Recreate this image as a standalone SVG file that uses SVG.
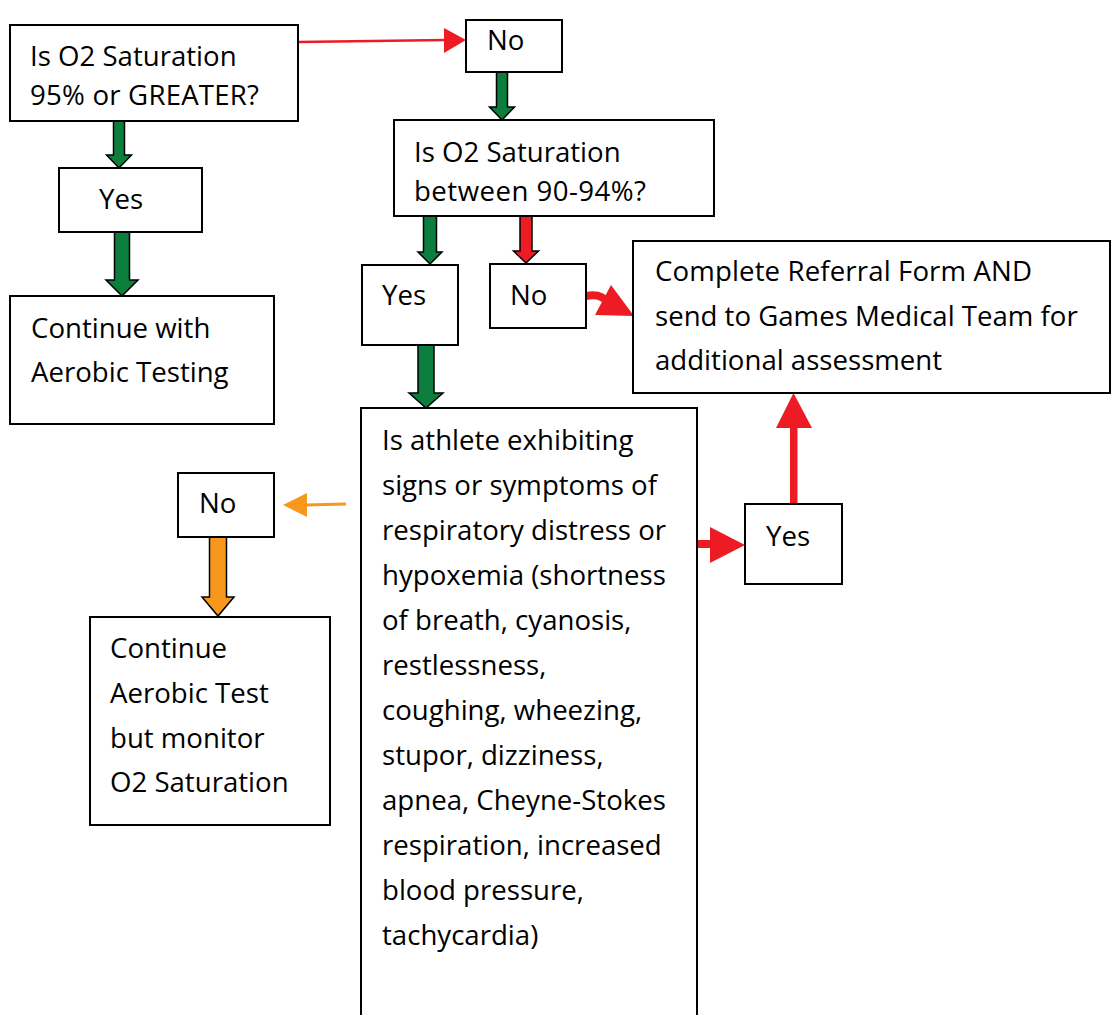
<svg xmlns="http://www.w3.org/2000/svg" width="1111" height="1015" viewBox="0 0 1111 1015">
<style>
.box{fill:#fff;stroke:#000;stroke-width:2}
.t{font-family:"Open Sans","Noto Sans",sans-serif;font-size:27.6px;fill:#000}
.g{fill:#0b7d3d;stroke:#000;stroke-width:1.5;stroke-linejoin:miter}
.rb{fill:#ed1c24;stroke:#000;stroke-width:1.5}
.o{fill:#f7981d;stroke:#000;stroke-width:1.5}
.r{fill:#ed1c24}
</style>
<rect width="1111" height="1015" fill="#fff"/>
<g id="connectors">
  <line x1="298" y1="42" x2="446" y2="40" stroke="#ed1c24" stroke-width="2.5"/>
  <polygon class="r" points="444,28 466,40 444,53"/>
  <polygon class="g" points="113.5,121 124.5,121 124.5,155 131.5,155 119,168 106.5,155 113.5,155"/>
  <polygon class="g" points="114.5,232 129.5,232 129.5,280 138,280 122,296 106,280 114.5,280"/>
  <polygon class="g" points="496.5,72 507.5,72 507.5,107 514.5,107 502,120 489.5,107 496.5,107"/>
  <polygon class="g" points="423.5,216 436.5,216 436.5,252 442,252 430,264 418,252 423.5,252"/>
  <polygon class="rb" points="520,216 532,216 532,251 538.5,251 526,263 513.5,251 520,251"/>
  <polygon class="g" points="418,345 434,345 434,393 443,393 426,408 409,393 418,393"/>
  <polygon class="o" points="209.5,537 226.5,537 226.5,597 234,597 218,616 202,597 209.5,597"/>
  <path d="M586,296 Q601,293 607,302" fill="none" stroke="#ed1c24" stroke-width="8"/>
  <polygon class="r" points="611,285 595,315 634,316"/>
  <rect class="r" x="697" y="540" width="15" height="8"/>
  <polygon class="r" points="710,527 745,545 710,563"/>
  <rect class="r" x="790" y="426" width="7.5" height="78"/>
  <polygon class="r" points="776,428 793.5,393 812,428"/>
  <line x1="305" y1="505" x2="346" y2="504" stroke="#f7981d" stroke-width="3"/>
  <polygon fill="#f7981d" points="307,493 283,505 307,517"/>
</g>
<g id="n1">
  <rect class="box" x="10" y="25" width="288" height="96"/>
  <text class="t" x="30" y="66">Is O2 Saturation</text>
  <text class="t" x="30" y="105" textLength="229">95% or GREATER?</text>
</g>
<g id="n2">
  <rect class="box" x="466" y="20" width="96" height="52"/>
  <text class="t" x="487" y="50">No</text>
</g>
<g id="n3">
  <rect class="box" x="394" y="120" width="320" height="96"/>
  <text class="t" x="414" y="162">Is O2 Saturation</text>
  <text class="t" x="414" y="201" textLength="232">between 90-94%?</text>
</g>
<g id="n4">
  <rect class="box" x="59" y="168" width="143" height="64"/>
  <text class="t" x="99" y="209">Yes</text>
</g>
<g id="n5">
  <rect class="box" x="10" y="296" width="264" height="128"/>
  <text class="t" x="31" y="338">Continue with</text>
  <text class="t" x="31" y="382">Aerobic Testing</text>
</g>
<g id="n6">
  <rect class="box" x="362" y="265" width="96" height="80"/>
  <text class="t" x="382" y="305">Yes</text>
</g>
<g id="n7">
  <rect class="box" x="490" y="264" width="96" height="64"/>
  <text class="t" x="510" y="305">No</text>
</g>
<g id="n8">
  <rect class="box" x="633" y="241" width="477" height="152"/>
  <text class="t" x="655" y="281" textLength="377">Complete Referral Form AND</text>
  <text class="t" x="655" y="326">send to Games Medical Team for</text>
  <text class="t" x="655" y="370">additional assessment</text>
</g>
<g id="n9">
  <rect class="box" x="361" y="408" width="336" height="620"/>
  <text class="t" x="382" y="450">Is athlete exhibiting</text>
  <text class="t" x="382" y="495">signs or symptoms of</text>
  <text class="t" x="382" y="540">respiratory distress or</text>
  <text class="t" x="382" y="585">hypoxemia (shortness</text>
  <text class="t" x="382" y="630">of breath, cyanosis,</text>
  <text class="t" x="382" y="675">restlessness,</text>
  <text class="t" x="382" y="720">coughing, wheezing,</text>
  <text class="t" x="382" y="765">stupor, dizziness,</text>
  <text class="t" x="382" y="810">apnea, Cheyne-Stokes</text>
  <text class="t" x="382" y="855">respiration, increased</text>
  <text class="t" x="382" y="900">blood pressure,</text>
  <text class="t" x="382" y="945">tachycardia)</text>
</g>
<g id="n10">
  <rect class="box" x="178" y="473" width="96" height="64"/>
  <text class="t" x="199" y="513">No</text>
</g>
<g id="n11">
  <rect class="box" x="90" y="617" width="240" height="208"/>
  <text class="t" x="110" y="658">Continue</text>
  <text class="t" x="110" y="703">Aerobic Test</text>
  <text class="t" x="110" y="748">but monitor</text>
  <text class="t" x="110" y="792">O2 Saturation</text>
</g>
<g id="n12">
  <rect class="box" x="745" y="504" width="97" height="80"/>
  <text class="t" x="766" y="546">Yes</text>
</g>
</svg>
